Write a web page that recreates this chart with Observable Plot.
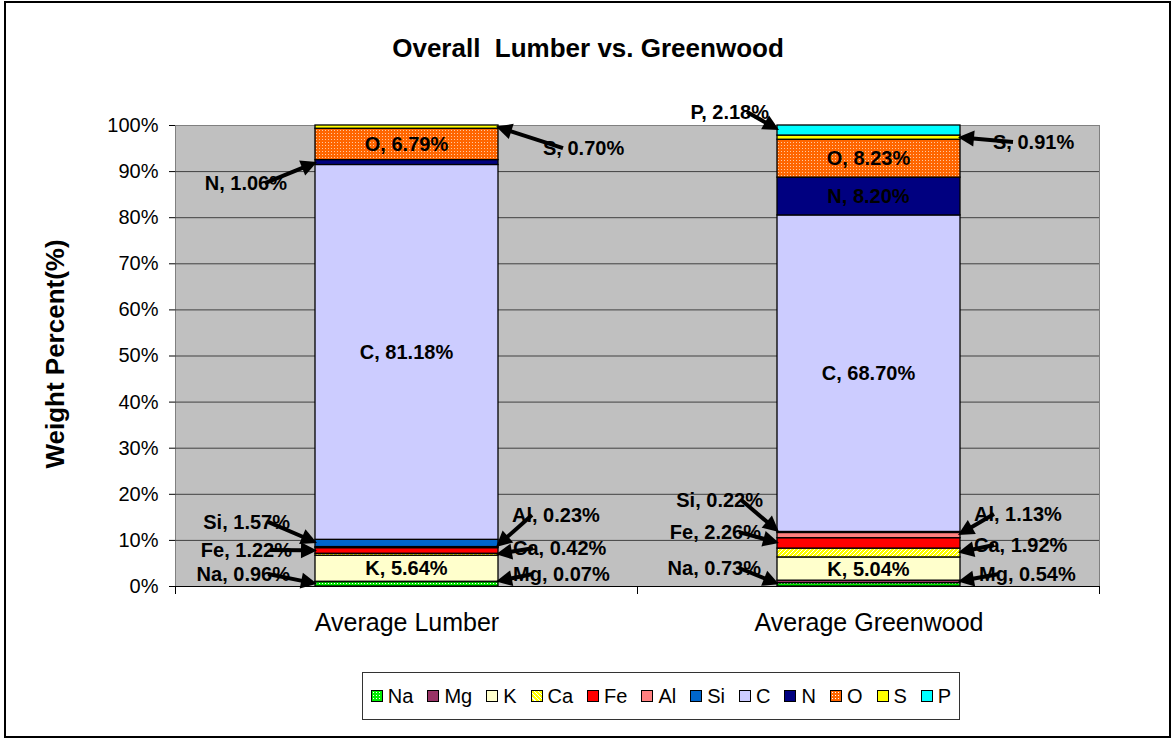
<!DOCTYPE html>
<html>
<head>
<meta charset="utf-8">
<script src="https://cdn.jsdelivr.net/npm/d3@7"></script>
<script src="https://cdn.jsdelivr.net/npm/@observablehq/plot@0.6"></script>
<style>
  body { margin: 0; background: #fff; font-family: Arial, "Liberation Sans", sans-serif; }
  #wrap { position: relative; width: 1175px; height: 740px; overflow: hidden; background: #fff; }
  #chart { position: absolute; left: 0; top: 0; }
  #chart g[aria-label^="x-axis"] text { font-size: 25px; }
  #title { position: absolute; top: 35px; left: 588px; transform: translateX(-50%); font-size: 26px; font-weight: bold; white-space: pre; line-height: 1; }
  #ytitle { position: absolute; left: 55px; top: 354px; transform: translate(-50%, -50%) rotate(-90deg); font-size: 26px; font-weight: bold; white-space: nowrap; line-height: 1; }
  #legend { position: absolute; left: 362px; top: 672px; width: 598px; height: 48px; box-sizing: border-box; border: 1px solid #333; display: flex; align-items: center; justify-content: center; gap: 14px; font-size: 20px; background: #fff; }
  .item { display: flex; align-items: center; gap: 5px; }
  .sw { width: 12px; height: 12px; box-sizing: border-box; border: 1.5px solid #000; }
  #frame { position: absolute; left: 4px; top: 1px; width: 1167px; height: 737px; box-sizing: border-box; border: 2px solid #000; pointer-events: none; }
</style>
</head>
<body>
<div id="wrap">
  <div id="chart"></div>
  <div id="title"></div>
  <div id="ytitle"></div>
  <div id="legend"></div>
  <div id="frame"></div>
</div>
<script>
// ---------- data ----------
const chartTitle = "Overall  Lumber vs. Greenwood";
const yAxisTitle = "Weight Percent(%)";
const categories = ["Average Lumber", "Average Greenwood"];
const elements = ["Na", "Mg", "K", "Ca", "Fe", "Al", "Si", "C", "N", "O", "S", "P"];
const lumberValues = [0.96, 0.07, 5.64, 0.42, 1.22, 0.23, 1.57, 81.18, 1.06, 6.79, 0.70, 0];
const greenwoodValues = [0.73, 0.54, 5.04, 1.92, 2.26, 1.13, 0.22, 68.70, 8.20, 8.23, 0.91, 2.18];
const yTickValues = [0, 10, 20, 30, 40, 50, 60, 70, 80, 90, 100];

// ---------- styles ----------
const elementFills = ["url(#patNa)", "#993366", "#FFFFCC", "url(#patCa)", "#FF0000", "#FF8080",
                      "#0066CC", "#CCCCFF", "#000080", "url(#patO)", "#FFFF00", "#00FFFF"];
const legendCss = [
  "radial-gradient(circle, #fff 0.6px, transparent 0.9px) 0 0/3px 3px, #00EE00",
  "#993366", "#FFFFCC",
  "repeating-linear-gradient(45deg, #FFFF00 0 2px, #fff 2px 3px)",
  "#FF0000", "#FF8080", "#0066CC", "#CCCCFF", "#000080",
  "radial-gradient(circle, #fff 0.6px, transparent 0.9px) 0 0/3px 3px, #FF6600",
  "#FFFF00", "#00FFFF"
];

// ---------- annotation layout (label placement relative to bars) ----------
const labelLayout = [
  {cat: 0, el: "O", side: "in"}, {cat: 0, el: "C", side: "in"}, {cat: 0, el: "K", side: "in"},
  {cat: 0, el: "N", side: "left", at: 87.4, gap: 28},
  {cat: 0, el: "S", side: "right", at: 95.0, gap: 45},
  {cat: 0, el: "Si", side: "left", at: 13.9, gap: 25},
  {cat: 0, el: "Fe", side: "left", at: 7.8, gap: 23},
  {cat: 0, el: "Na", side: "left", at: 2.6, gap: 25},
  {cat: 0, el: "Al", side: "right", at: 15.4, gap: 14},
  {cat: 0, el: "Ca", side: "right", at: 8.2, gap: 15},
  {cat: 0, el: "Mg", side: "right", at: 2.6, gap: 15},
  {cat: 1, el: "O", side: "in"}, {cat: 1, el: "N", side: "in"}, {cat: 1, el: "C", side: "in"}, {cat: 1, el: "K", side: "in"},
  {cat: 1, el: "P", side: "left", at: 102.8, gap: 8},
  {cat: 1, el: "S", side: "right", at: 96.3, gap: 33},
  {cat: 1, el: "Si", side: "left", at: 18.7, gap: 14},
  {cat: 1, el: "Fe", side: "left", at: 11.7, gap: 16},
  {cat: 1, el: "Na", side: "left", at: 3.9, gap: 16},
  {cat: 1, el: "Al", side: "right", at: 15.6, gap: 14},
  {cat: 1, el: "Ca", side: "right", at: 8.9, gap: 14},
  {cat: 1, el: "Mg", side: "right", at: 2.6, gap: 19}
];

// ---------- derived table ----------
const seriesByCat = [lumberValues, greenwoodValues];
const rows = [];
categories.forEach((c, i) => elements.forEach((e, j) => {
  if (seriesByCat[i][j] > 0) rows.push({cat: c, el: e, value: seriesByCat[i][j]});
}));
const mids = seriesByCat.map(vals => {
  const total = d3.sum(vals);
  let acc = 0; const m = {};
  elements.forEach((e, j) => { const lo = acc / total; acc += vals[j]; m[e] = (lo + acc / total) / 2; });
  return m;
});

function annotate(index, scales) {
  const x = scales.x, y = scales.y;
  const bw = typeof x.bandwidth === "function" ? x.bandwidth() : x.bandwidth;
  const step = typeof x.step === "function" ? x.step() : bw / (1 - 0.604);
  const g = d3.create("svg:g");
  const defs = g.append("defs");
  const pNa = defs.append("pattern").attr("id", "patNa").attr("width", 3).attr("height", 3).attr("patternUnits", "userSpaceOnUse");
  pNa.append("rect").attr("width", 3).attr("height", 3).attr("fill", "#00EE00");
  pNa.append("rect").attr("x", 1).attr("y", 1).attr("width", 1).attr("height", 1).attr("fill", "#fff");
  const pO = defs.append("pattern").attr("id", "patO").attr("width", 3).attr("height", 3).attr("patternUnits", "userSpaceOnUse");
  pO.append("rect").attr("width", 3).attr("height", 3).attr("fill", "#FF6600");
  pO.append("rect").attr("x", 1).attr("y", 1).attr("width", 1).attr("height", 1).attr("fill", "#FFC8A0");
  const pCa = defs.append("pattern").attr("id", "patCa").attr("width", 4).attr("height", 4).attr("patternUnits", "userSpaceOnUse");
  pCa.append("rect").attr("width", 4).attr("height", 4).attr("fill", "#FFFF00");
  pCa.append("path").attr("d", "M-1,1 L1,-1 M0,4 L4,0 M3,5 L5,3").attr("stroke", "#fff").attr("stroke-width", 1);

  // category boundary ticks on the x axis
  const y0 = y(0);
  const bounds = categories.map(c => x(c) - (step - bw) / 2);
  bounds.push(x(categories[categories.length - 1]) + bw + (step - bw) / 2);
  bounds.forEach(b => g.append("line").attr("x1", b).attr("x2", b).attr("y1", y0).attr("y2", y0 + 8)
    .attr("stroke", "#000").attr("stroke-width", 1));

  const texts = g.append("g").attr("font-size", 20).attr("font-weight", "bold")
    .attr("font-family", "Arial, 'Liberation Sans', sans-serif").attr("fill", "#000");
  const arrows = g.append("g");
  labelLayout.forEach(L => {
    const c = categories[L.cat];
    const vals = seriesByCat[L.cat];
    const val = vals[elements.indexOf(L.el)];
    const label = `${L.el}, ${val.toFixed(2)}%`;
    const xl = x(c), xr = xl + bw, xc = xl + bw / 2;
    const ym = y(mids[L.cat][L.el]);
    if (L.side === "in") {
      texts.append("text").attr("x", xc).attr("y", ym).attr("dy", "0.35em").attr("text-anchor", "middle").text(label);
      return;
    }
    const ty = y(L.at / 100);
    let tx, sx, ex;
    if (L.side === "left") { tx = xl - L.gap; sx = tx - 22; ex = xl + 2; }
    else { tx = xr + L.gap; sx = tx + 20; ex = xr - 2; }
    texts.append("text").attr("x", tx).attr("y", ty).attr("dy", "0.35em")
      .attr("text-anchor", L.side === "left" ? "end" : "start").text(label);
    const dxv = ex - sx, dyv = ym - ty, len = Math.hypot(dxv, dyv);
    const ux = dxv / len, uy = dyv / len, hl = 16, hw = 8;
    const bx = ex - ux * hl, by = ym - uy * hl;
    arrows.append("line").attr("x1", sx).attr("y1", ty).attr("x2", bx + ux).attr("y2", by + uy)
      .attr("stroke", "#000").attr("stroke-width", 4);
    arrows.append("path")
      .attr("d", `M${ex},${ym}L${bx - uy * hw},${by + ux * hw}L${bx + uy * hw},${by - ux * hw}Z`)
      .attr("fill", "#000");
  });
  return g.node();
}

const chart = Plot.plot({
  width: 1175, height: 660,
  marginTop: 125, marginBottom: 74, marginLeft: 175, marginRight: 76,
  style: {fontSize: "20px", fontFamily: "Arial, 'Liberation Sans', sans-serif", background: "transparent", color: "#000", overflow: "visible"},
  x: {domain: categories, paddingInner: 0.604, paddingOuter: 0.302, label: null, tickSize: 0, tickPadding: 27},
  y: {domain: [0, 1], ticks: yTickValues.map(v => v / 100), tickFormat: d => `${Math.round(d * 100)}%`,
      label: null, tickSize: 6, tickPadding: 11, line: true},
  color: {type: "ordinal", domain: elements, range: elementFills},
  marks: [
    Plot.frame({fill: "#C0C0C0", stroke: "#808080"}),
    Plot.ruleY(yTickValues.filter(v => v > 0 && v < 100).map(v => v / 100), {stroke: "#404040", strokeWidth: 1}),
    Plot.barY(rows, Plot.stackY({x: "cat", y: "value", fill: "el", offset: "normalize", stroke: "#000", strokeWidth: 1.3})),
    Plot.ruleY([0], {stroke: "#000", strokeWidth: 1}),
    annotate
  ]
});
document.getElementById("chart").appendChild(chart);
document.getElementById("title").textContent = chartTitle;
document.getElementById("ytitle").textContent = yAxisTitle;
const legend = document.getElementById("legend");
elements.forEach((e, j) => {
  const it = document.createElement("div"); it.className = "item";
  const sw = document.createElement("div"); sw.className = "sw"; sw.style.background = legendCss[j];
  const t = document.createElement("span"); t.textContent = e;
  it.appendChild(sw); it.appendChild(t); legend.appendChild(it);
});
</script>
</body>
</html>
